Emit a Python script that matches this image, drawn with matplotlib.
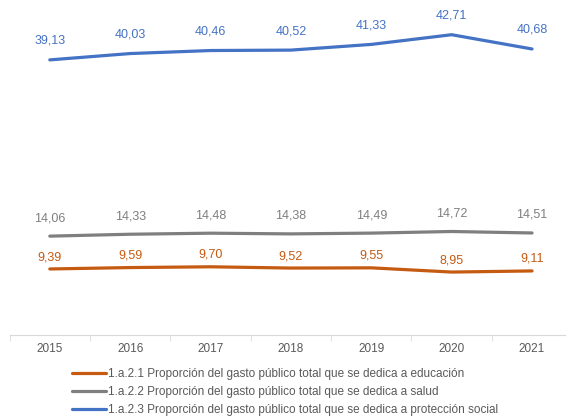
import matplotlib.pyplot as plt
import numpy as np

plt.rcParams['font.family'] = ['Liberation Sans', 'DejaVu Sans']

# Data
years = ['2015', '2016', '2017', '2018', '2019', '2020', '2021']
educacion = [9.39, 9.59, 9.70, 9.52, 9.55, 8.95, 9.11]
salud = [14.06, 14.33, 14.48, 14.38, 14.49, 14.72, 14.51]
proteccion = [39.13, 40.03, 40.46, 40.52, 41.33, 42.71, 40.68]

labels = ['1.a.2.1 Proporción del gasto público total que se dedica a educación',
          '1.a.2.2 Proporción del gasto público total que se dedica a salud',
          '1.a.2.3 Proporción del gasto público total que se dedica a protección social']
colors = ['#C55A11', '#7F7F7F', '#4472C4']
offsets = [8.6, 13, 13.7]

fig = plt.figure(figsize=(5.66, 4.18), dpi=100)
ax = fig.add_axes([0.017, 0.1986, 0.994, 0.7737])

x = np.arange(len(years))
handles = []
for vals, c, lab, off in zip([educacion, salud, proteccion], colors, labels, offsets):
    h, = ax.plot(x, vals, color=c, lw=2.3, solid_capstyle='round', label=lab)
    handles.append(h)
    for xi, v in zip(x, vals):
        ax.annotate(f'{v:.2f}'.replace('.', ','), (xi, v), xytext=(0, off),
                    textcoords='offset points', ha='center', va='center',
                    fontsize=9, color=c)

ax.set_xlim(-0.5, len(years) - 0.5)
ax.set_ylim(0, 46)
ax.set_xticks(x)
ax.set_xticklabels(years, fontsize=8.5, color='#595959')
ax.set_xticks(np.arange(-0.5, len(years)), minor=True)
ax.tick_params(axis='x', which='major', length=0, pad=6)
ax.tick_params(axis='x', which='minor', length=4, color='#D9D9D9')
ax.set_yticks([])
for s in ['top', 'right', 'left']:
    ax.spines[s].set_visible(False)
ax.spines['bottom'].set_color('#D9D9D9')

fig.legend(handles=handles, loc='lower left', bbox_to_anchor=(0.115, -0.013),
           frameon=False, fontsize=8.5, handlelength=2.9, handletextpad=0.15,
           labelspacing=0.52, borderaxespad=0.2, labelcolor='#595959')

fig.savefig('out.png', dpi=100)
